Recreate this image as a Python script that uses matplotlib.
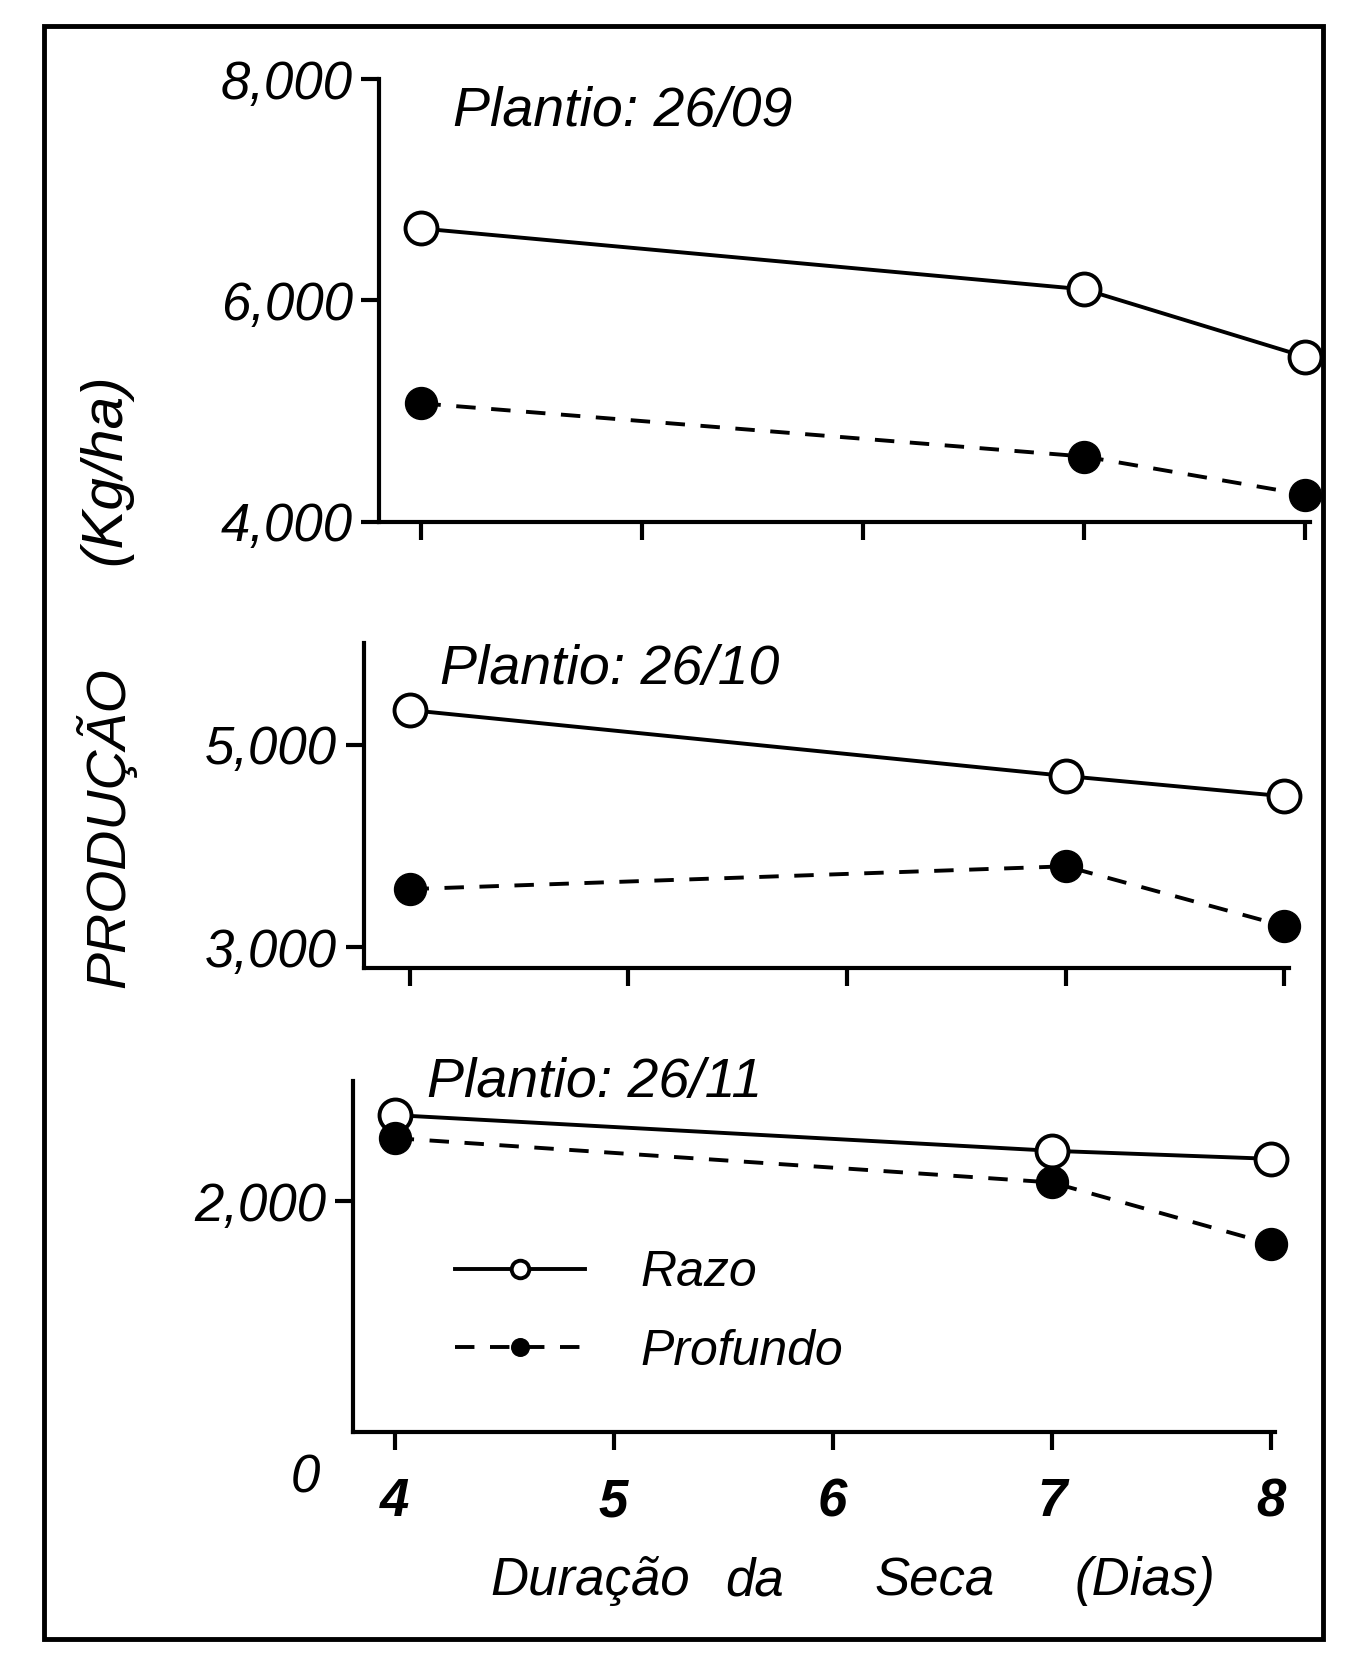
import matplotlib.pyplot as plt
import matplotlib.patches as patches

# data
dias = [4, 7, 8]
titulos = ['Plantio: 26/09', 'Plantio: 26/10', 'Plantio: 26/11']
razo = [[6650, 6100, 5490],
        [5340, 4690, 4490],
        [2750, 2440, 2370]]
profundo = [[5070, 4590, 4245],
            [3575, 3800, 3210],
            [2550, 2165, 1630]]
ylims = [(4000, 8000), (2800, 6000), (0, 3050)]
yticks = [[4000, 6000, 8000], [3000, 5000], [2000]]
ytick_labels = [['4,000', '6,000', '8,000'], ['3,000', '5,000'], ['2,000']]
xticks = [4, 5, 6, 7, 8]

plt.rcParams['font.family'] = ['Liberation Sans', 'DejaVu Sans']
plt.rcParams['font.style'] = 'italic'

W, H = 1282.0, 1568.0  # coords measured on the shrunk view

def box(l, t, r, b):
    return [l / W, 1 - b / H, (r - l) / W, (b - t) / H]

fig = plt.figure(figsize=(13.51, 16.53), dpi=100)

# panel rectangles (left, top, right, bottom) in view pixels
rects = [(360, 75, 1243, 495), (345, 610, 1223, 918), (335, 1025, 1210, 1358)]
xlefts = [3.81, 3.79, 3.81]

axes = []
for i, r in enumerate(rects):
    ax = fig.add_axes(box(*r))
    ax.plot(dias, razo[i], '-o', color='black', lw=2.8, ms=23, mfc='white',
            mec='black', mew=2.8, label='Razo', zorder=3, clip_on=False)
    ax.plot(dias, profundo[i], '--o', color='black', lw=2.8, ms=23, mfc='black',
            mec='black', dashes=(5, 4), label='Profundo', zorder=3, clip_on=False)
    ax.set_xlim(xlefts[i], 8.02)
    ax.set_ylim(*ylims[i])
    ax.set_xticks(xticks)
    ax.set_yticks(yticks[i])
    ax.set_yticklabels(ytick_labels[i], fontsize=38)
    ax.spines['top'].set_visible(False)
    ax.spines['right'].set_visible(False)
    ax.spines['left'].set_linewidth(3)
    ax.spines['bottom'].set_linewidth(3)
    ax.tick_params(axis='both', direction='out', length=13, width=3)
    ax.tick_params(axis='y', pad=6)
    if i < 2:
        ax.set_xticklabels([])
    else:
        ax.set_xticklabels([str(t) for t in xticks], fontsize=38, fontweight='bold')
        ax.tick_params(axis='x', pad=20)
    ax.patch.set_alpha(0)
    axes.append(ax)

# titles of each planting date
fig.text(430 / W, 1 - 106 / H, titulos[0], fontsize=40, va='center', ha='left')
fig.text(418 / W, 1 - 636 / H, titulos[1], fontsize=40, va='center', ha='left')
fig.text(405 / W, 1 - 1027 / H, titulos[2], fontsize=40, va='center', ha='left')

# the "0" sits low, next to the 4
fig.text(290 / W, 1 - 1402 / H, '0', fontsize=38, va='center', ha='center')

# axis labels
fig.text(100 / W, 1 - 785 / H, 'PRODUÇÃO', rotation=90, fontsize=40,
         va='center', ha='center')
fig.text(100 / W, 1 - 445 / H, '(Kg/ha)', rotation=90, fontsize=42,
         va='center', ha='center')
xl_y = 1 - 1500 / H
fig.text(465 / W, xl_y, 'Duração', fontsize=38, va='center', ha='left')
fig.text(688 / W, xl_y, 'da', fontsize=38, va='center', ha='left')
fig.text(830 / W, xl_y, 'Seca', fontsize=38, va='center', ha='left')
fig.text(1020 / W, xl_y, '(Dias)', fontsize=38, va='center', ha='left')

leg = axes[2].legend(loc='upper left', bbox_to_anchor=(0.062, 0.645), frameon=False,
                     fontsize=36, handlelength=2.6, markerscale=0.55,
                     labelspacing=0.65, handletextpad=1.1)

# frame around the whole figure
fig.patches.append(patches.Rectangle((42 / W, 1 - 1555 / H), (1255 - 42) / W,
                                     (1555 - 25) / H, transform=fig.transFigure,
                                     fill=False, lw=3.5, ec='black'))

fig.savefig('out.png', dpi=100, facecolor='white')
